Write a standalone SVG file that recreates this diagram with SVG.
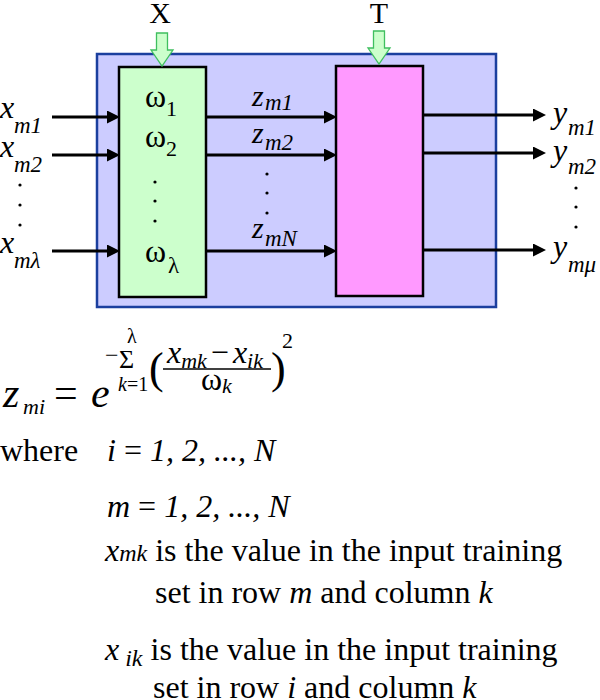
<svg xmlns="http://www.w3.org/2000/svg" width="600" height="700" viewBox="0 0 600 700" font-family="'Liberation Serif', 'Times New Roman', 'DejaVu Serif', serif">
<style>
  text { font-family: "Liberation Serif", "Times New Roman", "DejaVu Serif", serif; fill: #000; }
  .it { font-style: italic; }
  .lbl { font-size: 32px; }
  .sub { font-size: 23px; font-style: italic; }
  .conn { stroke: #000; stroke-width: 3; fill: none; marker-end: url(#ah); }
  .blk { stroke: #000; stroke-width: 2.5; }
  .garrow { fill: #ccffcc; stroke: #3fbf5f; stroke-width: 1.3; }
  .dt { fill: #000; }
</style>
<defs>
  <marker id="ah" markerUnits="userSpaceOnUse" markerWidth="14" markerHeight="14" refX="4" refY="6.5" orient="auto">
    <path d="M0,0 L13,6.5 L0,13 Z" fill="#000"/>
  </marker>
</defs>

<g id="system">
  <rect x="97" y="54" width="399" height="253" fill="#ccccff" stroke="#1b3f9e" stroke-width="2.5"/>
</g>

<g id="weights-node">
  <rect class="blk" x="119" y="67" width="87" height="230" fill="#ccffcc"/>
  <text class="lbl" x="145" y="107">ω</text><text style="font-size:22px" x="166" y="116">1</text>
  <text class="lbl" x="145" y="147">ω</text><text style="font-size:22px" x="166" y="156">2</text>
  <circle class="dt" cx="155" cy="182" r="1.6"/>
  <circle class="dt" cx="155" cy="201" r="1.6"/>
  <circle class="dt" cx="155" cy="221" r="1.6"/>
  <text class="lbl" x="145" y="262">ω</text><text style="font-size:23px" x="168" y="273">λ</text>
</g>

<g id="T-node">
  <rect class="blk" x="336" y="66" width="87" height="230" fill="#ff99ff"/>
</g>

<g id="X-input">
  <text class="lbl" style="font-size:30px" x="160" y="23" text-anchor="middle">X</text>
  <path class="garrow" d="M156.5,33 H167.5 V50 H173 L162,66 L151,50 H156.5 Z"/>
</g>

<g id="T-input">
  <text class="lbl" style="font-size:30px" x="379" y="23" text-anchor="middle">T</text>
  <path class="garrow" d="M373.5,31 H384.5 V48 H390 L379,64 L368,48 H373.5 Z"/>
</g>

<g id="inputs">
  <text class="lbl it" x="0" y="118">x</text><text class="sub" x="14" y="133">m1</text>
  <text class="lbl it" x="0" y="157">x</text><text class="sub" x="14" y="172">m2</text>
  <circle class="dt" cx="20" cy="185" r="1.6"/>
  <circle class="dt" cx="20" cy="205" r="1.6"/>
  <circle class="dt" cx="20" cy="225" r="1.6"/>
  <text class="lbl it" x="0" y="253">x</text><text class="sub" x="14" y="268">mλ</text>
</g>

<g id="z-labels">
  <text class="it" style="font-size:30px" x="252" y="106">z</text><text class="sub" x="265" y="110">m1</text>
  <text class="it" style="font-size:30px" x="252" y="143">z</text><text class="sub" x="265" y="150">m2</text>
  <circle class="dt" cx="267" cy="174" r="1.6"/>
  <circle class="dt" cx="267" cy="193" r="1.6"/>
  <circle class="dt" cx="267" cy="213" r="1.6"/>
  <text class="it" style="font-size:30px" x="252" y="238">z</text><text class="sub" x="265" y="246">mN</text>
</g>

<g id="outputs">
  <text class="lbl it" x="553" y="123">y</text><text class="sub" x="568" y="135">m1</text>
  <text class="lbl it" x="553" y="161">y</text><text class="sub" x="568" y="174">m2</text>
  <circle class="dt" cx="576" cy="188" r="1.6"/>
  <circle class="dt" cx="576" cy="207" r="1.6"/>
  <circle class="dt" cx="576" cy="227" r="1.6"/>
  <text class="lbl it" x="553" y="257">y</text><text class="sub" x="568" y="272">mμ</text>
</g>

<g id="connectors">
  <line class="conn" x1="52" y1="117" x2="111" y2="117"/>
  <line class="conn" x1="52" y1="155" x2="111" y2="155"/>
  <line class="conn" x1="52" y1="251" x2="111" y2="251"/>
  <line class="conn" x1="206" y1="117" x2="328" y2="117"/>
  <line class="conn" x1="206" y1="155" x2="328" y2="155"/>
  <line class="conn" x1="206" y1="251" x2="328" y2="251"/>
  <line class="conn" x1="423" y1="115" x2="537" y2="115"/>
  <line class="conn" x1="423" y1="153" x2="537" y2="153"/>
  <line class="conn" x1="423" y1="250" x2="537" y2="250"/>
</g>

<g id="formula">
  <text class="it" style="font-size:42px" x="3" y="407">z</text>
  <text class="sub" style="font-size:22px" x="23" y="414">mi</text>
  <text style="font-size:42px" x="54" y="407">=</text>
  <text class="it" style="font-size:42px" x="91" y="407">e</text>
  <text style="font-size:24px" x="105" y="363">−</text>
  <text style="font-size:26px" x="119" y="368">Σ</text>
  <text style="font-size:20px" x="127" y="343">λ</text>
  <text style="font-size:20px" x="118" y="391"><tspan font-style="italic">k</tspan>=1</text>
  <text style="font-size:44px" x="149" y="383">(</text>
  <text style="font-size:32px" x="167" y="363"><tspan font-style="italic">x</tspan><tspan font-style="italic" font-size="22" dy="5">mk</tspan><tspan dy="-5" dx="4">−</tspan><tspan font-style="italic" dx="4">x</tspan><tspan font-style="italic" font-size="22" dy="5">ik</tspan></text>
  <line x1="163" y1="369" x2="271" y2="369" stroke="#000" stroke-width="1.5"/>
  <text style="font-size:32px" x="201" y="390">ω<tspan font-style="italic" font-size="22" dy="3">k</tspan></text>
  <text style="font-size:44px" x="271" y="383">)</text>
  <text style="font-size:22px" x="282" y="348">2</text>
</g>

<g id="legend" style="font-size:32px">
  <text x="0" y="461">where</text>
  <text x="107" y="461"><tspan font-style="italic">i</tspan> = <tspan font-style="italic">1, 2, ..., N</tspan></text>
  <text x="107" y="517"><tspan font-style="italic">m</tspan> = <tspan font-style="italic">1, 2, ..., N</tspan></text>
  <text x="105" y="561"><tspan font-style="italic">x</tspan><tspan font-style="italic" font-size="24">mk</tspan> is the value in the input training</text>
  <text x="155" y="603">set in row <tspan font-style="italic">m</tspan> and column <tspan font-style="italic">k</tspan></text>
  <text x="105" y="660"><tspan font-style="italic">x</tspan><tspan font-style="italic" font-size="24" dx="6" dy="6">ik</tspan><tspan dy="-6"> is the value in the input training</tspan></text>
  <text x="153" y="698">set in row <tspan font-style="italic">i</tspan> and column <tspan font-style="italic">k</tspan></text>
</g>
</svg>
